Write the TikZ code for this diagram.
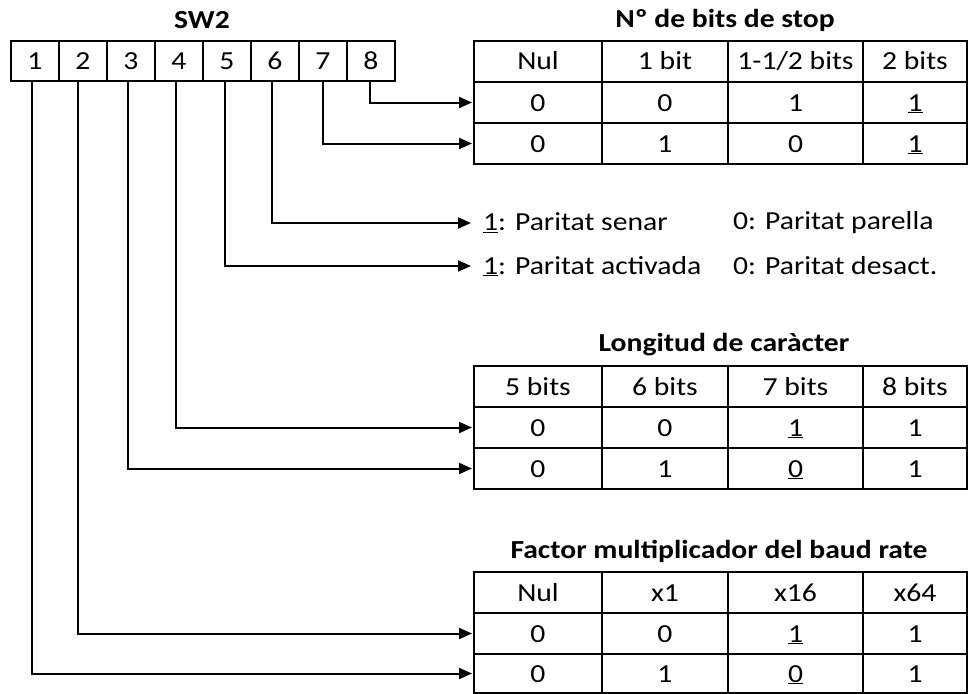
\documentclass[tikz,border=0pt]{standalone}
\usepackage{fontspec}
\setmainfont{Carlito}[FakeStretch=1.14]
\usetikzlibrary{arrows.meta}

% one row of a four-column table: name, top y, height, then the four entries
\newcommand\tabrow[7]{%
  \node[cellbox, minimum width=128pt, minimum height=#3pt] (#1-1) at (473,#2) {#4};
  \node[cellbox, minimum width=126pt, minimum height=#3pt] (#1-2) at (601,#2) {#5};
  \node[cellbox, minimum width=135pt, minimum height=#3pt] (#1-3) at (727,#2) {#6};
  \node[cellbox, minimum width=104pt, minimum height=#3pt] (#1-4) at (862,#2) {#7};
}

\begin{document}
\begin{tikzpicture}[x=1pt, y=-1pt,
  every node/.style={font=\fontsize{26}{30}\selectfont, inner sep=0pt},
  cellbox/.style={draw, line width=2pt, anchor=north west,
                  text height=17pt, text depth=0pt},
  wire/.style={line width=2pt, -{Triangle[length=13pt,width=11pt]}},
  heading/.style={font=\fontsize{26}{30}\selectfont\bfseries},
  note/.style={anchor=west}]
\useasboundingbox (0,0) rectangle (968,693);

% DIP switch SW2
\node[heading] (swtitle) at (202,20) {SW2};
\foreach \i in {1,...,8}
  \node[cellbox, minimum width=48pt, minimum height=40pt] (sw\i) at ({10+48*(\i-1)},40) {\i};

% stop bits table
\node[heading] (stoptitle) at (725,20) {Nº de bits de stop};
\tabrow{stop0}{40}{41}{Nul}{1 bit}{1-1/2 bits}{2 bits}
\tabrow{stop1}{81}{41}{0}{0}{1}{\underline{1}}
\tabrow{stop2}{122}{41}{0}{1}{0}{\underline{1}}

% parity settings
\node[note] (par6a) at (483,223) {\underline{1}: Paritat senar};
\node[note] (par6b) at (733,223) {0: Paritat parella};
\node[note] (par5a) at (483,266) {\underline{1}: Paritat activada};
\node[note] (par5b) at (733,266) {0: Paritat desact.};

% character length table
\node[heading] (lentitle) at (724,345) {Longitud de caràcter};
\tabrow{len0}{365}{41}{5 bits}{6 bits}{7 bits}{8 bits}
\tabrow{len1}{406}{41}{0}{0}{\underline{1}}{1}
\tabrow{len2}{447}{41}{0}{1}{\underline{0}}{1}

% baud rate factor table
\node[heading] (baudtitle) at (719,551) {Factor multiplicador del baud rate};
\tabrow{baud0}{571}{41}{Nul}{x1}{x16}{x64}
\tabrow{baud1}{612}{41}{0}{0}{\underline{1}}{1}
\tabrow{baud2}{653}{39}{0}{1}{\underline{0}}{1}

% switch connections
\draw[wire, shorten >=1pt] ([xshift=-1pt]sw8.south) |- (stop1-1.west);
\draw[wire, shorten >=1pt] (sw7.south) |- (stop2-1.west);
\draw[wire, shorten >=12pt] ([xshift=-3pt]sw6.south) |- (par6a.west);
\draw[wire, shorten >=12pt] ([xshift=-2pt]sw5.south) |- (par5a.west);
\draw[wire, shorten >=1pt] ([xshift=-3pt]sw4.south) |- (len1-1.west);
\draw[wire, shorten >=1pt] ([xshift=-3pt]sw3.south) |- (len2-1.west);
\draw[wire, shorten >=1pt] ([xshift=-5pt]sw2.south) |- (baud1-1.west);
\draw[wire, shorten >=1pt] ([xshift=-3pt]sw1.south) |- (baud2-1.west);
\end{tikzpicture}
\end{document}
